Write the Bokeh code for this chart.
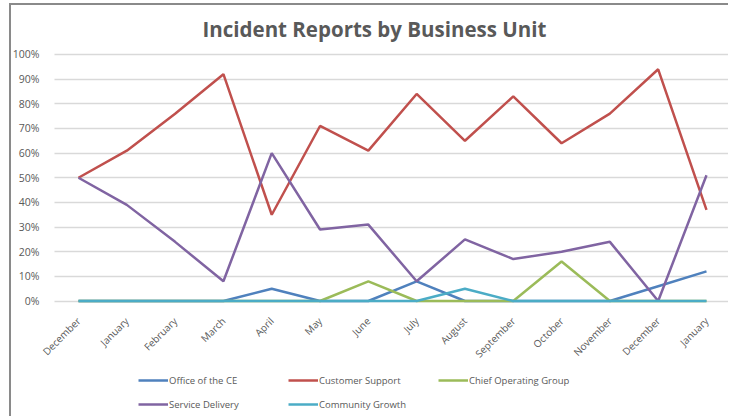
import math
from bokeh.plotting import figure
from bokeh.models import (Range1d, FixedTicker, PrintfTickFormatter, Legend, LegendItem)
from bokeh.embed import file_html
from bokeh.resources import INLINE

months = ["December", "January", "February", "March", "April", "May", "June",
          "July", "August", "September", "October", "November", "December", "January"]

office_ce = [0, 0, 0, 0, 5, 0, 0, 8, 0, 0, 0, 0, 6, 12]
customer_support = [50, 61, 76, 92, 35, 71, 61, 84, 65, 83, 64, 76, 94, 37]
chief_operating = [0, 0, 0, 0, 0, 0, 8, 0, 0, 0, 16, 0, 0, 0]
service_delivery = [50, 39, 24, 8, 60, 29, 31, 8, 25, 17, 20, 24, 0, 51]
community_growth = [0, 0, 0, 0, 0, 0, 0, 0, 5, 0, 0, 0, 0, 0]
y_ticks = list(range(0, 101, 10))

series = [
    ("Office of the CE", office_ce, "#4F81BD"),
    ("Customer Support", customer_support, "#C0504D"),
    ("Chief Operating Group", chief_operating, "#9BBB59"),
    ("Service Delivery", service_delivery, "#8064A2"),
    ("Community Growth", community_growth, "#4BACC6"),
]

xs = list(range(len(months)))
text_color = "#595959"
grid_color = "#d9d9d9"

# The frame covers the whole chart area; both axes are pinned inside it.
p = figure(width=719, height=413, output_backend="svg", toolbar_location=None,
           x_range=Range1d(-1.387, 13.497), y_range=Range1d(-46.85, 104.46),
           min_border_left=0, min_border_right=0, min_border_top=38, min_border_bottom=2)
p.styles = {"margin-left": "9px", "margin-top": "3px",
            "border-left": "2px solid #8a8a8a", "border-top": "2px solid #8a8a8a"}
p.outline_line_color = None
p.background_fill_color = "white"
p.border_fill_color = "white"

p.title.text = "Incident Reports by Business Unit"
p.title.text_font = "Open Sans"
p.title.text_font_style = "bold"
p.title.text_font_size = "20.5px"
p.title.text_color = text_color
p.title.align = "left"
p.title.vertical_align = "middle"
p.title.offset = 191
p.title.standoff = 0

p.xgrid.grid_line_color = None
yg = p.ygrid[0]
yg.ticker = FixedTicker(ticks=y_ticks)
if "cross_bounds" in yg.properties():
    yg.grid_line_color = grid_color
    yg.grid_line_width = 1.3
    yg.cross_bounds = (-0.5, 13.5)
else:
    yg.grid_line_color = None
    p.segment(x0=-0.5, x1=13.5, y0=y_ticks, y1=y_ticks,
              line_color=grid_color, line_width=1.3)

p.xaxis.fixed_location = 0
p.xaxis.ticker = FixedTicker(ticks=xs)
p.xaxis.major_label_overrides = {i: m for i, m in enumerate(months)}
p.xaxis.major_label_orientation = math.pi / 4
p.xaxis.major_label_text_font = "Open Sans"
p.xaxis.major_label_text_font_size = "10px"
p.xaxis.major_label_text_color = text_color
p.xaxis.axis_line_color = None
p.xaxis.major_tick_line_color = None
p.xaxis.minor_tick_line_color = None
p.xaxis.major_label_standoff = 12

p.yaxis.fixed_location = -0.5
p.yaxis.ticker = FixedTicker(ticks=y_ticks)
p.yaxis.formatter = PrintfTickFormatter(format="%d%%")
p.yaxis.major_label_text_font = "Open Sans"
p.yaxis.major_label_text_font_size = "10.5px"
p.yaxis.major_label_text_color = text_color
p.yaxis.axis_line_color = None
p.yaxis.major_tick_line_color = None
p.yaxis.minor_tick_line_color = None
p.yaxis.major_label_standoff = 9

renderers = {}
for name, vals, color in series:
    r = p.line(xs, vals, line_color=color, line_width=2.5)
    renderers[name] = r

order = ["Office of the CE", "Customer Support", "Chief Operating Group",
         "Service Delivery", "Community Growth"]
legend = Legend(items=[LegendItem(label=n, renderers=[renderers[n]]) for n in order],
                location=(127, 0), orientation="horizontal", ncols=3)
legend.padding = 0
legend.margin = 0
legend.spacing = 0
legend.border_line_color = None
legend.background_fill_alpha = 0
legend.glyph_width = 30
legend.glyph_height = 24
legend.label_height = 24
legend.label_width = 119
legend.label_standoff = 1
legend.label_text_font = "Open Sans"
legend.label_text_font_size = "9.5px"
legend.label_text_color = text_color
p.add_layout(legend, "center")

open("out.html", "w").write(file_html(p, INLINE))
